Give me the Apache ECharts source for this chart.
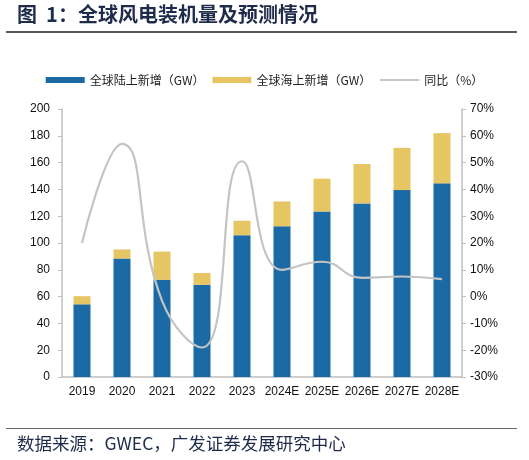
<!DOCTYPE html>
<html><head><meta charset="utf-8">
<script src="https://cdn.jsdelivr.net/npm/echarts@6/dist/echarts.min.js"></script>
<style>html,body{margin:0;padding:0;background:#fff}#c{width:529px;height:460px}</style>
</head><body><div id="c"></div>
<script>
var categories = ['2019','2020','2021','2022','2023','2024E','2025E','2026E','2027E','2028E'];
var onshore = [54.2, 88.4, 72.5, 68.8, 105.8, 112.5, 123.5, 129.5, 139.5, 144.5];
var offshore = [6.1, 6.8, 21.1, 8.8, 10.8, 18.5, 24.5, 29.5, 31.5, 37.5];
var yoy = [20, 57, -1.5, -19, 50.5, 10, 13, 7, 7.5, 6.5];
var names = ['全球陆上新增（GW）', '全球海上新增（GW）', '同比（%）'];
var leftTicks = {min: 0, max: 200, interval: 20};
var rightTicks = {min: -30, max: 70, interval: 10};

var font = '"Liberation Sans", Arial, "Noto Sans CJK SC", sans-serif';
var chart = echarts.init(document.getElementById('c'), null, {renderer: 'canvas'});
chart.setOption({
  animation: false,
  textStyle: {fontFamily: font},
  graphic: [
    {type: 'text', left: 17, top: 4, style: {text: '图  1：全球风电装机量及预测情况', font: 'bold 20px "Noto Sans CJK SC", sans-serif', fill: '#1e2b4a'}},
    {type: 'rect', shape: {x: 6, y: 31, width: 511, height: 2}, style: {fill: '#5a5a5a'}},
    {type: 'rect', shape: {x: 6, y: 428, width: 511, height: 1}, style: {fill: '#6a6a6a'}},
    {type: 'text', left: 17, top: 435, style: {text: '数据来源：GWEC，广发证券发展研究中心', font: '17.5px "Noto Sans CJK SC", sans-serif', fill: '#1e2b4a'}}
  ],
  legend: {
    top: 69, left: 'center',
    itemWidth: 39, itemHeight: 6, itemGap: 8,
    textStyle: {fontSize: 12, color: '#222', fontFamily: '"Noto Sans CJK SC", sans-serif'},
    data: [
      {name: names[0], icon: 'rect'},
      {name: names[1], icon: 'rect'},
      {name: names[2], itemStyle: {opacity: 0}, lineStyle: {width: 2, color: '#c4c4c4'}}
    ]
  },
  grid: {left: 62, right: 67, top: 109, bottom: 83},
  xAxis: {
    type: 'category', data: categories,
    axisLine: {lineStyle: {color: '#bfbfbf', width: 1.5}},
    axisTick: {show: false},
    axisLabel: {color: '#111', fontSize: 12, margin: 9, interval: 0}
  },
  yAxis: [
    {type: 'value', min: leftTicks.min, max: leftTicks.max, interval: leftTicks.interval,
     splitLine: {show: false},
     axisLine: {show: true, lineStyle: {color: '#bfbfbf', width: 1.5}},
     axisTick: {show: true, length: 4, lineStyle: {color: '#bfbfbf'}},
     axisLabel: {color: '#111', fontSize: 12, margin: 12}},
    {type: 'value', min: rightTicks.min, max: rightTicks.max, interval: rightTicks.interval,
     splitLine: {show: false},
     axisLine: {show: true, lineStyle: {color: '#bfbfbf', width: 1.5}},
     axisTick: {show: true, length: 4, lineStyle: {color: '#bfbfbf'}},
     axisLabel: {color: '#111', fontSize: 12, margin: 8, formatter: '{value}%'}}
  ],
  series: [
    {name: names[0], type: 'bar', stack: 's', data: onshore, barWidth: 17,
     itemStyle: {color: '#1b6aa5'}},
    {name: names[1], type: 'bar', stack: 's', data: offshore, barWidth: 17,
     itemStyle: {color: '#e5c663'}},
    {name: names[2], type: 'line', yAxisIndex: 1, data: yoy, smooth: 0.5,
     symbol: 'none', lineStyle: {color: '#c4c4c4', width: 2.2}, itemStyle: {color: '#c4c4c4'}}
  ]
});
</script></body></html>
